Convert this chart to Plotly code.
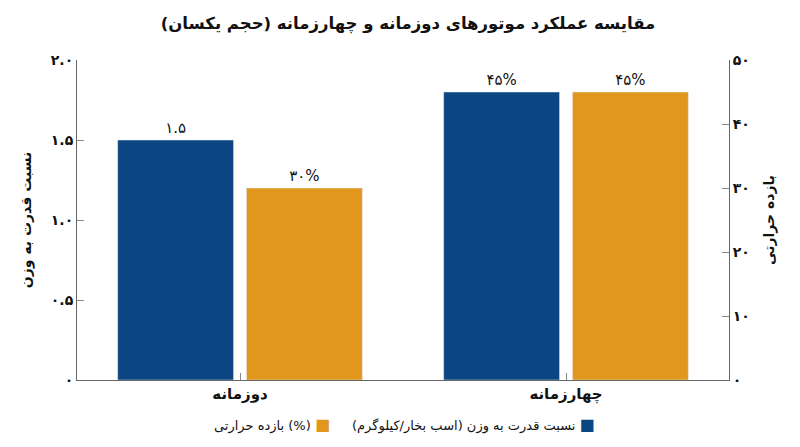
import plotly.graph_objects as go
from plotly.subplots import make_subplots

# داده‌ها
categories = ["دوزمانه", "چهارزمانه"]
power_ratio = [1.5, 1.8]          # نسبت قدرت به وزن (محور چپ)
power_labels = ["۱.۵", "۴۵%"]
efficiency = [30, 45]             # بازده حرارتی (محور راست)
efficiency_labels = ["۳۰%", "۴۵%"]

left_ticks = [0, 0.5, 1.0, 1.5, 2.0]
left_ticktext = ["۰", "۰.۵", "۱.۰", "۱.۵", "۲.۰"]
right_ticks = [0, 10, 20, 30, 40, 50]
right_ticktext = ["۰", "۱۰", "۲۰", "۳۰", "۴۰", "۵۰"]

blue = "#0b4682"
orange = "#e1961d"
font = "DejaVu Sans"

fig = make_subplots(specs=[[{"secondary_y": True}]])

fig.add_trace(
    go.Bar(
        x=categories, y=power_ratio, name="نسبت قدرت به وزن (اسب بخار/کیلوگرم)",
        marker_color=blue, offsetgroup=1,
        text=power_labels, textposition="outside",
        textfont=dict(size=15, color="#111"), cliponaxis=False,
    ),
    secondary_y=False,
)
fig.add_trace(
    go.Bar(
        x=categories, y=efficiency, name="بازده حرارتی (%)",
        marker_color=orange, offsetgroup=2,
        text=efficiency_labels, textposition="outside",
        textfont=dict(size=15, color="#111"), cliponaxis=False,
    ),
    secondary_y=True,
)

axis_common = dict(
    showline=True, linecolor="#666", linewidth=1,
    ticks="inside", ticklen=7, tickcolor="#888",
    showgrid=False, zeroline=False, automargin=False,
)

fig.update_xaxes(**axis_common, domain=[0, 1],
                 tickfont=dict(size=15, color="#111", family=font),
                 ticktext=["<b>" + c + "</b>" for c in categories], tickvals=categories)
fig.update_yaxes(
    **axis_common, range=[0, 2.0], tickvals=left_ticks,
    ticktext=["<b>" + t + "</b>" for t in left_ticktext],
    tickfont=dict(size=14, color="#111"),
    title=dict(text="<b>نسبت قدرت به وزن</b>", font=dict(size=14, color="#111")),
    secondary_y=False,
)
fig.update_yaxes(
    **axis_common, range=[0, 50], tickvals=right_ticks,
    ticktext=["<b>" + t + "</b>" for t in right_ticktext],
    tickfont=dict(size=14, color="#111"),
    title=dict(text="<b>بازده حرارتی</b>", font=dict(size=14, color="#111")),
    secondary_y=True,
)

# legend drawn as annotations (RTL: marker on the right of the text)
fig.add_annotation(
    x=0.797, y=-0.14, xref="paper", yref="paper", xanchor="right", yanchor="middle",
    text=fig.data[0].name + ' <span style="color:%s;font-size:16px">■</span>' % blue,
    showarrow=False, font=dict(size=13, color="#111", family=font),
)
fig.add_annotation(
    x=0.391, y=-0.14, xref="paper", yref="paper", xanchor="right", yanchor="middle",
    text=fig.data[1].name + ' <span style="color:%s;font-size:16px">■</span>' % orange,
    showarrow=False, font=dict(size=13, color="#111", family=font),
)

fig.update_layout(
    width=800, height=447,
    title=dict(text="<b>مقایسه عملکرد موتورهای دوزمانه و چهارزمانه (حجم یکسان)</b>",
               x=0.5, xanchor="center", y=0.965, yanchor="middle",
               font=dict(size=16.5, color="#111")),
    font=dict(family=font, color="#111"),
    barmode="group", bargap=0.21, bargroupgap=0.1,
    showlegend=False,
    plot_bgcolor="white", paper_bgcolor="white",
    margin=dict(l=69, r=79, t=52, b=75),
)

fig.write_html("out.html")
